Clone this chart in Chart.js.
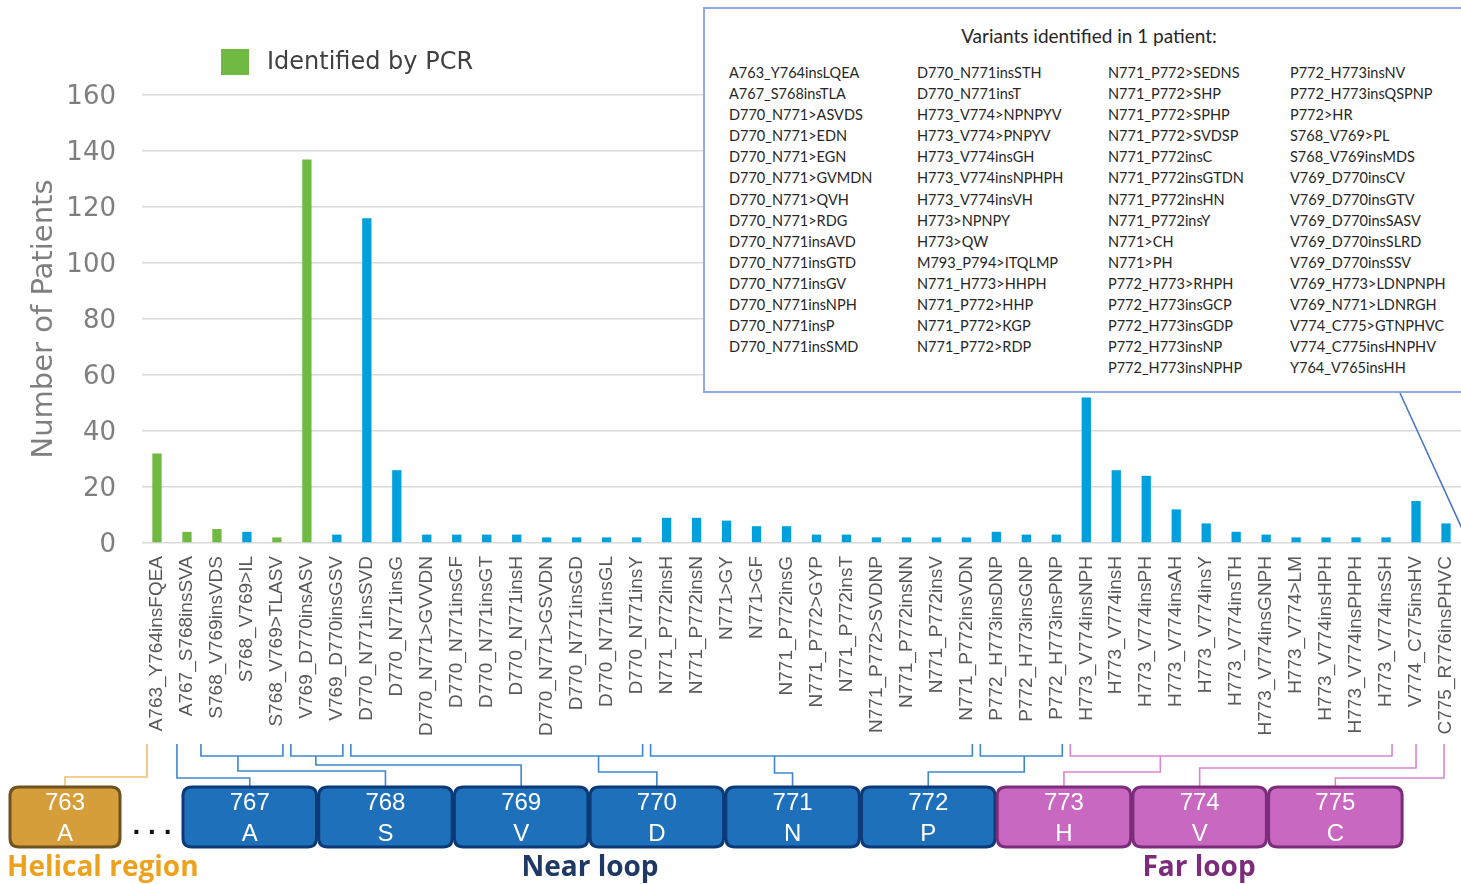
<!DOCTYPE html>
<html>
<head>
<meta charset="utf-8">
<script src="https://cdn.jsdelivr.net/npm/chart.js@4/dist/chart.umd.min.js"></script>
<style>
  html, body { margin: 0; padding: 0; background: #fff; }
  #wrap { position: relative; width: 1461px; height: 884px; overflow: hidden; }
  #c { position: absolute; left: 0; top: 0; }
  #inset { position: absolute; left: 703px; top: 7px; width: 820px; height: 382px;
           border: 2px solid #8FAADC; background: #fff; font-family: Lato, "Open Sans", sans-serif; color: #262626; }
  #inset .title { position: absolute; left: 0; width: 768px; top: 15px; line-height: 24px; font-size: 19px; text-align: center; }
  #inset .col { position: absolute; top: 53px; font-size: 14.5px; line-height: 21.1px; white-space: nowrap; }
</style>
</head>
<body>
<div id="wrap">
  <canvas id="c" width="1461" height="884"></canvas>
  <div id="inset"><div class="title">Variants identified in 1 patient:</div></div>
</div>
<script>
// ---------- data ----------
const categories = [
  'A763_Y764insFQEA','A767_S768insSVA','S768_V769insVDS','S768_V769>IL','S768_V769>TLASV',
  'V769_D770insASV','V769_D770insGSV','D770_N771insSVD','D770_N771insG','D770_N771>GVVDN',
  'D770_N771insGF','D770_N771insGT','D770_N771insH','D770_N771>GSVDN','D770_N771insGD',
  'D770_N771insGL','D770_N771insY','N771_P772insH','N771_P772insN','N771>GY',
  'N771>GF','N771_P772insG','N771_P772>GYP','N771_P772insT','N771_P772>SVDNP',
  'N771_P772insNN','N771_P772insV','N771_P772insVDN','P772_H773insDNP','P772_H773insGNP',
  'P772_H773insPNP','H773_V774insNPH','H773_V774insH','H773_V774insPH','H773_V774insAH',
  'H773_V774insY','H773_V774insTH','H773_V774insGNPH','H773_V774>LM','H773_V774insHPH',
  'H773_V774insPHPH','H773_V774insSH','V774_C775insHV','C775_R776insPHVC'
];
const patients = [
  32, 4, 5, 4, 2,
  137, 3, 116, 26, 3,
  3, 3, 3, 2, 2,
  2, 2, 9, 9, 8,
  6, 6, 3, 3, 2,
  2, 2, 2, 4, 3,
  3, 52, 26, 24, 12,
  7, 4, 3, 2, 2,
  2, 2, 15, 7
];
const identifiedByPCR = [
  true, true, true, false, true,
  true, false, false, false, false,
  false, false, false, false, false,
  false, false, false, false, false,
  false, false, false, false, false,
  false, false, false, false, false,
  false, false, false, false, false,
  false, false, false, false, false,
  false, false, false, false
];
const yTicks = [0, 20, 40, 60, 80, 100, 120, 140, 160];
const legendLabel = 'Identified by PCR';
const yTitle = 'Number of Patients';

const residueNumbers = ['763','767','768','769','770','771','772','773','774','775'];
const residueLetters = ['A','A','S','V','D','N','P','H','V','C'];
const residueRegion  = ['helical','near','near','near','near','near','near','far','far','far'];
const regionNames = { helical: 'Helical region', near: 'Near loop', far: 'Far loop' };
// variant groups: [first category, last category, residue index]
const variantGroups = [
  [0, 0, 0], [1, 1, 1], [2, 4, 2], [5, 6, 3], [7, 16, 4],
  [17, 27, 5], [28, 30, 6], [31, 41, 7], [42, 42, 8], [43, 43, 9]
];

const singleVariants1 = ['A763_Y764insLQEA','A767_S768insTLA','D770_N771>ASVDS','D770_N771>EDN','D770_N771>EGN','D770_N771>GVMDN','D770_N771>QVH','D770_N771>RDG','D770_N771insAVD','D770_N771insGTD','D770_N771insGV','D770_N771insNPH','D770_N771insP','D770_N771insSMD'];
const singleVariants2 = ['D770_N771insSTH','D770_N771insT','H773_V774>NPNPYV','H773_V774>PNPYV','H773_V774insGH','H773_V774insNPHPH','H773_V774insVH','H773>NPNPY','H773>QW','M793_P794>ITQLMP','N771_H773>HHPH','N771_P772>HHP','N771_P772>KGP','N771_P772>RDP'];
const singleVariants3 = ['N771_P772>SEDNS','N771_P772>SHP','N771_P772>SPHP','N771_P772>SVDSP','N771_P772insC','N771_P772insGTDN','N771_P772insHN','N771_P772insY','N771>CH','N771>PH','P772_H773>RHPH','P772_H773insGCP','P772_H773insGDP','P772_H773insNP','P772_H773insNPHP'];
const singleVariants4 = ['P772_H773insNV','P772_H773insQSPNP','P772>HR','S768_V769>PL','S768_V769insMDS','V769_D770insCV','V769_D770insGTV','V769_D770insSASV','V769_D770insSLRD','V769_D770insSSV','V769_H773>LDNPNPH','V769_N771>LDNRGH','V774_C775>GTNPHVC','V774_C775insHNPHV','Y764_V765insHH'];

// ---------- styles / layout ----------
const GREEN = '#70BA44', BLUE = '#00A0DC';
const regionStyle = {
  helical: { fill: '#D59E3A', stroke: '#6E5220', line: '#F2BE6E', text: '#EDA11C' },
  near:    { fill: '#1F70BA', stroke: '#0C3A78', line: '#3F86CC', text: '#1F3864' },
  far:     { fill: '#C868C0', stroke: '#7B2C7B', line: '#D985D2', text: '#7B2C7B' }
};
// bracket geometry (layout only)
const bracketLayout = [
  { single: -10, level: 777 }, { single: -10, level: 778 },
  { stem: 2.7, level: 771 }, { stem: 5.3, level: 765 }, { stem: 14.73, level: 772 },
  { stem: 20.6, level: 773 }, { stem: 28.93, level: 772 }, { stem: 33.47, level: 772 },
  { single: 0, level: 768 }, { single: -2, level: 778 }
];

// inset columns
const colLefts = [24, 212, 403, 585];
[singleVariants1, singleVariants2, singleVariants3, singleVariants4].forEach((list, i) => {
  const d = document.createElement('div');
  d.className = 'col';
  d.style.left = colLefts[i] + 'px';
  d.innerHTML = list.map(s => s.replace(/&/g,'&amp;').replace(/</g,'&lt;').replace(/>/g,'&gt;')).join('<br>');
  document.getElementById('inset').appendChild(d);
});

function boxGeom(i) {
  if (i === 0) return { left: 10, width: 110 };
  return { left: 183 + (i - 1) * 135.7, width: 133.5 };
}

function roundRect(ctx, x, y, w, h, r) {
  ctx.beginPath();
  ctx.moveTo(x + r, y);
  ctx.lineTo(x + w - r, y);
  ctx.quadraticCurveTo(x + w, y, x + w, y + r);
  ctx.lineTo(x + w, y + h - r);
  ctx.quadraticCurveTo(x + w, y + h, x + w - r, y + h);
  ctx.lineTo(x + r, y + h);
  ctx.quadraticCurveTo(x, y + h, x, y + h - r);
  ctx.lineTo(x, y + r);
  ctx.quadraticCurveTo(x, y, x + r, y);
  ctx.closePath();
}

const annotations = {
  id: 'annotations',
  afterDraw(chart) {
    const ctx = chart.ctx;
    const xs = chart.scales.x;
    const px = v => xs.getPixelForValue(v);
    const spacing = px(1) - px(0);
    ctx.save();

    // legend
    ctx.fillStyle = GREEN;
    ctx.fillRect(221, 49, 28, 26);
    ctx.fillStyle = '#404040';
    ctx.font = '24px "DejaVu Sans"';
    ctx.textAlign = 'left';
    ctx.textBaseline = 'middle';
    ctx.fillText(legendLabel, 267, 63);

    // brackets
    const topY = 744, brY = 756, boxTop = 787;
    ctx.lineWidth = 1.6;
    variantGroups.forEach((g, gi) => {
      const [a, b, r] = g;
      const L = bracketLayout[gi];
      const st = regionStyle[residueRegion[r]];
      const bg = boxGeom(r);
      const rc = bg.left + bg.width / 2;
      ctx.strokeStyle = st.line;
      ctx.beginPath();
      if (L.single !== undefined) {
        const x0 = px(a) + L.single;
        ctx.moveTo(x0, topY);
        ctx.lineTo(x0, L.level);
        ctx.lineTo(rc, L.level);
        ctx.lineTo(rc, boxTop);
      } else {
        const xl = px(a) - 16, xr = px(b) + 6;
        ctx.moveTo(xl, topY);
        ctx.lineTo(xl, brY);
        ctx.lineTo(xr, brY);
        ctx.lineTo(xr, topY);
        const sx = px(0) + L.stem * spacing;
        ctx.moveTo(sx, brY);
        ctx.lineTo(sx, L.level);
        ctx.lineTo(rc, L.level);
        ctx.lineTo(rc, boxTop);
      }
      ctx.stroke();
    });

    // residue boxes
    residueNumbers.forEach((num, i) => {
      const st = regionStyle[residueRegion[i]];
      const g = boxGeom(i);
      roundRect(ctx, g.left, boxTop, g.width, 60, 9);
      ctx.fillStyle = st.fill;
      ctx.fill();
      ctx.lineWidth = 3;
      ctx.strokeStyle = st.stroke;
      ctx.stroke();
      ctx.fillStyle = '#ffffff';
      ctx.font = '24px "Liberation Sans"';
      ctx.textAlign = 'center';
      ctx.textBaseline = 'middle';
      const cx = g.left + g.width / 2;
      ctx.fillText(num, cx, 803);
      ctx.fillText(residueLetters[i], cx, 834);
    });

    // ellipsis
    ctx.fillStyle = '#111';
    ctx.font = 'bold 28px "Liberation Sans"';
    ctx.textAlign = 'center';
    ctx.textBaseline = 'alphabetic';
    ctx.fillText('. . .', 152, 834);

    // region labels
    ctx.font = 'bold 28px "Open Sans"';
    ctx.textBaseline = 'middle';
    ctx.fillStyle = regionStyle.helical.text;
    ctx.textAlign = 'left';
    ctx.fillText(regionNames.helical, 7, 868);
    ctx.textAlign = 'center';
    ctx.fillStyle = regionStyle.near.text;
    ctx.fillText(regionNames.near, 590, 868);
    ctx.fillStyle = regionStyle.far.text;
    ctx.fillText(regionNames.far, 1199, 868);

    // callout line from inset
    ctx.strokeStyle = '#4472C4';
    ctx.lineWidth = 1.5;
    ctx.beginPath();
    ctx.moveTo(1400, 393);
    ctx.lineTo(1470, 546);
    ctx.stroke();

    ctx.restore();
  }
};

new Chart(document.getElementById('c').getContext('2d'), {
  type: 'bar',
  data: {
    labels: categories,
    datasets: [{
      label: legendLabel,
      data: patients,
      backgroundColor: identifiedByPCR.map(p => p ? GREEN : BLUE),
      barPercentage: 1,
      categoryPercentage: 0.31
    }]
  },
  options: {
    responsive: false,
    animation: false,
    devicePixelRatio: 1,
    layout: { autoPadding: false, padding: { top: 95, left: 0, right: 0, bottom: 0 } },
    plugins: { legend: { display: false }, tooltip: { enabled: false } },
    scales: {
      x: {
        grid: { display: false, drawTicks: false },
        border: { display: false },
        ticks: {
          autoSkip: false, minRotation: 90, maxRotation: 90, padding: 13,
          color: '#595959', font: { family: 'Liberation Sans', size: 19 }
        },
        afterFit(s) { s.height = 341; s.paddingLeft = 0; s.paddingRight = 0; s.paddingTop = 0; s.paddingBottom = 0; }
      },
      y: {
        min: 0, max: 160,
        afterBuildTicks(s) { s.ticks = yTicks.map(v => ({ value: v })); },
        ticks: { padding: 26, labelOffset: 2, color: '#7F7F7F', font: { family: 'DejaVu Sans', size: 26 } },
        grid: { color: '#D9D9D9', lineWidth: 1.5, drawTicks: false },
        border: { display: false },
        title: {
          display: true, text: yTitle, color: '#7F7F7F',
          font: { family: 'DejaVu Sans', size: 29 }, padding: { top: 27, bottom: 0 }
        },
        afterFit(s) { s.width = 142; s.paddingLeft = 0; s.paddingRight = 0; s.paddingTop = 0; s.paddingBottom = 0; }
      }
    }
  },
  plugins: [annotations]
});
</script>
</body>
</html>
